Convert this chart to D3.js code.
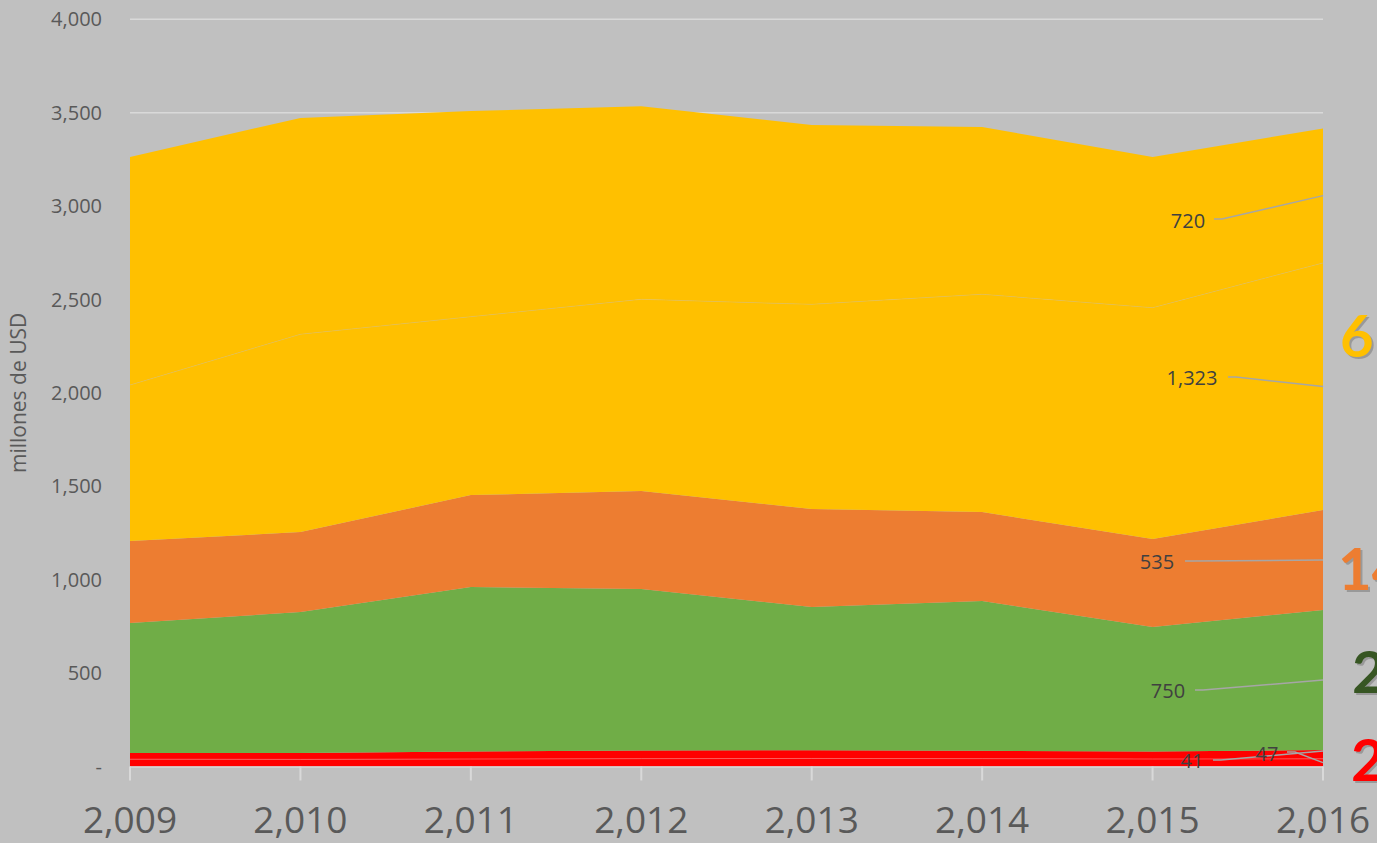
<!DOCTYPE html>
<html>
<head>
<meta charset="utf-8">
<script src="https://cdn.jsdelivr.net/npm/d3@7/dist/d3.min.js"></script>
<style>
  html, body { margin: 0; padding: 0; background: #c0c0c0; overflow: hidden; }
  svg { display: block; }
</style>
</head>
<body>
<div id="chart"></div>
<script>
"use strict";
// data (millones de USD)
const years = [2009, 2010, 2011, 2012, 2013, 2014, 2015, 2016];
const seriesNames = ["rojo1", "rojo2", "verde", "naranja", "amarillo1", "amarillo2"];
const rojo1 = [39, 38, 40, 42, 43, 42, 40, 41];
const rojo2 = [33, 34, 40, 44, 44, 42, 40, 47];
const verde = [696, 755, 881, 864, 767, 802, 667, 750];
const naranja = [439, 428, 492, 525, 524, 476, 471, 535];
const amarillo1 = [835, 1059, 955, 1026, 1096, 1166, 1238, 1323];
const amarillo2 = [1221, 1158, 1101, 1034, 960, 895, 807, 720];
const yTicks = [0, 500, 1000, 1500, 2000, 2500, 3000, 3500, 4000];
const bigLabels = ["2%", "22%", "14%", "61%"];   // cut off at the right edge

const W = 1377, H = 843;
const colors = {
    rojo1: "#ff0000", rojo2: "#ff0000", verde: "#70ad47",
    naranja: "#ed7d31", amarillo1: "#ffc000", amarillo2: "#ffc000"
};

const table = years.map((y, i) => ({
    year: y, rojo1: rojo1[i], rojo2: rojo2[i], verde: verde[i],
    naranja: naranja[i], amarillo1: amarillo1[i], amarillo2: amarillo2[i]
}));
const stacked = d3.stack().keys(seriesNames)(table);

const x = d3.scaleLinear().domain([2009, 2016]).range([130, 1323]);
const y = d3.scaleLinear().domain([0, 4000]).range([766.5, 19.3]);

const svg = d3.select("#chart").append("svg")
    .attr("width", W).attr("height", H)
    .style("font-family", "'Open Sans', sans-serif");

svg.append("rect").attr("width", W).attr("height", H).attr("fill", "#c0c0c0");

// gridlines
svg.append("g").selectAll("line")
    .data(yTicks.filter(d => d > 0))
    .enter().append("line")
    .attr("x1", x(2009)).attr("x2", x(2016))
    .attr("y1", d => y(d)).attr("y2", d => y(d))
    .attr("stroke", "#d9d9d9").attr("stroke-width", 1.5);

// y tick labels
svg.append("g").selectAll("text")
    .data(yTicks)
    .enter().append("text")
    .attr("x", 102).attr("y", d => y(d) + 7)
    .attr("text-anchor", "end")
    .attr("font-size", 20).attr("fill", "#595959")
    .text(d => d === 0 ? "-" : d3.format(",")(d));

svg.append("text")
    .attr("transform", `translate(26,${(y(0) + y(4000)) / 2}) rotate(-90)`)
    .attr("text-anchor", "middle")
    .attr("font-size", 21).attr("fill", "#595959")
    .text("millones de USD");

// areas
const area = d3.area()
    .x(d => x(d.data.year))
    .y0(d => y(d[0]))
    .y1(d => y(d[1]));

svg.append("g").selectAll("path")
    .data(stacked)
    .enter().append("path")
    .attr("d", area)
    .attr("fill", d => colors[d.key]);

// faint edges between same-coloured layers
const topLine = d3.line().x(d => x(d.data.year)).y(d => y(d[1]));
svg.append("path").datum(stacked[0])
    .attr("d", topLine).attr("fill", "none")
    .attr("stroke", "#ff7070").attr("stroke-width", 0.7);
svg.append("path").datum(stacked[4])
    .attr("d", topLine).attr("fill", "none")
    .attr("stroke", "#cfc09a").attr("stroke-opacity", 0.55).attr("stroke-width", 0.6);

// x axis
svg.append("line")
    .attr("x1", x(2009)).attr("x2", x(2016))
    .attr("y1", y(0) + 0.5).attr("y2", y(0) + 0.5)
    .attr("stroke", "#d9d9d9").attr("stroke-width", 1.5);
svg.append("g").selectAll("line")
    .data(years)
    .enter().append("line")
    .attr("x1", d => x(d)).attr("x2", d => x(d))
    .attr("y1", y(0)).attr("y2", y(0) + 14)
    .attr("stroke", "#d9d9d9").attr("stroke-width", 2);
svg.append("g").selectAll("text")
    .data(years)
    .enter().append("text")
    .attr("x", d => x(d)).attr("y", 833)
    .attr("text-anchor", "middle")
    .attr("font-size", 37).attr("fill", "#595959")
    .text(d => d3.format(",")(d));

// data labels for 2016 with leader lines
const last = years.length - 1;
const mid = s => y((stacked[s][last][0] + stacked[s][last][1]) / 2);
const dataLabels = [
    { s: 5, tx: 1188, ty: 221, lx: 1214, ly: 219 },
    { s: 4, tx: 1192, ty: 378, lx: 1228, ly: 377 },
    { s: 3, tx: 1157, ty: 562, lx: 1185, ly: 561 },
    { s: 2, tx: 1168, ty: 691, lx: 1195, ly: 690 },
    { s: 0, tx: 1192, ty: 761, lx: 1213, ly: 760, ey: y(stacked[1][last][1]) + 1 },
    { s: 1, tx: 1267, ty: 754, lx: 1287, ly: 752, ey: mid(0) }
];
const lg = svg.append("g");
dataLabels.forEach(d => {
    const ey = d.ey !== undefined ? d.ey : mid(d.s);
    lg.append("polyline")
        .attr("points", `${d.lx},${d.ly} ${d.lx + 8},${d.ly} ${x(2016)},${ey}`)
        .attr("fill", "none").attr("stroke", "#a6a6a6").attr("stroke-width", 1.5);
    lg.append("text")
        .attr("x", d.tx).attr("y", d.ty + 7)
        .attr("text-anchor", "middle")
        .attr("font-size", 20).attr("fill", "#404040")
        .text(d3.format(",")(seriesNames.map(k => table[last][k])[d.s]));
});

// big share labels on the right (cut by the frame)
const bigPos = [
    { c: "#ff0000", x: 1351, y: 781 },
    { c: "#375623", x: 1352, y: 693 },
    { c: "#ed7d31", x: 1338, y: 590 },
    { c: "#ffc000", x: 1340, y: 357 }
];
const bg = svg.append("g");
bigLabels.forEach((t, i) => {
    const p = bigPos[i];
    bg.append("text")
        .attr("x", p.x + 2).attr("y", p.y + 2)
        .attr("font-family", "Lato, sans-serif").attr("font-weight", 700)
        .attr("font-size", 58).attr("fill", "rgba(0,0,0,0.2)")
        .text(t);
    bg.append("text")
        .attr("x", p.x).attr("y", p.y)
        .attr("font-family", "Lato, sans-serif").attr("font-weight", 700)
        .attr("font-size", 58).attr("fill", p.c)
        .text(t);
});
</script>
</body>
</html>
